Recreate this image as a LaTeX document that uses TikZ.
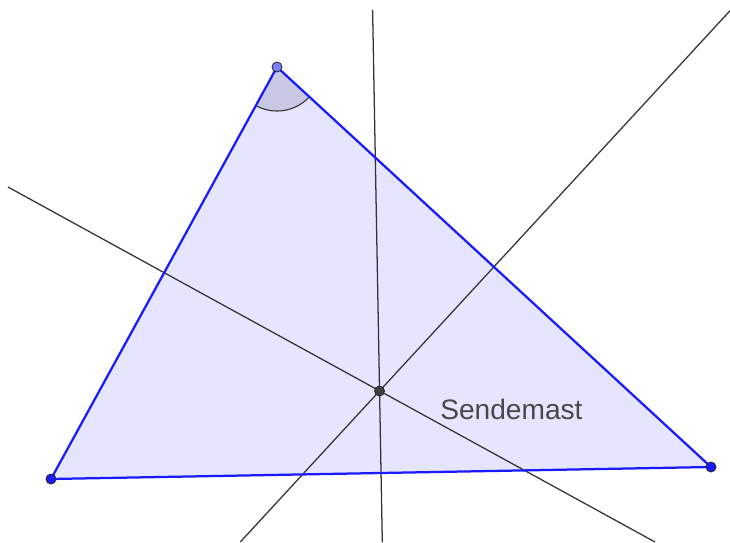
\documentclass[tikz,border=0pt]{standalone}
\usepackage{fontspec}
\setmainfont{Liberation Sans}
\definecolor{trifill}{RGB}{229,229,255}
\definecolor{triedge}{RGB}{26,26,255}
\definecolor{anglefill}{RGB}{200,200,228}
\definecolor{topdot}{RGB}{125,125,255}
\definecolor{labelgray}{RGB}{72,72,72}
\tikzset{
  bisector/.style={line width=0.9pt, black!80},
  triside/.style={line width=1.6pt, triedge},
  vertexdot/.style={circle, inner sep=0pt, minimum size=0.25cm, draw=black!85, line width=0.6pt, fill=#1},
}
\begin{document}
\begin{tikzpicture}[x=0.025cm, y=0.025cm]
\useasboundingbox (0,0) rectangle (730,542);
% Triangle corners and circumcentre
\coordinate (A) at (51,63);
\coordinate (B) at (711,75);
\coordinate (C) at (277,475);
\coordinate (M) at (379.5,151);
% Free ends of the bisectors
\coordinate (ab1) at (372.6,532);
\coordinate (ab2) at (382.3,0);
\coordinate (ac1) at (8,355);
\coordinate (ac2) at (655,0);
\coordinate (bc1) at (730,531.3);
\coordinate (bc2) at (240.3,0);

% Triangle
\fill[trifill] (A) -- (B) -- (C) -- cycle;
% Angle at C
\fill[anglefill] (C) -- ++(241.25:1.1cm) arc[start angle=241.25, end angle=317.33, radius=1.1cm] -- cycle;
\draw[line width=0.8pt, black!80] (C) ++(241.25:1.1cm) arc[start angle=241.25, end angle=317.33, radius=1.1cm];

% Perpendicular bisectors
\draw[bisector] (ab1) -- (ab2);
\draw[bisector] (ac1) -- (ac2);
\draw[bisector] (bc1) -- (bc2);

\draw[triside] (A) -- (B) -- (C) -- cycle;

% Points
\node[vertexdot=triedge] (a) at (A) {};
\node[vertexdot=triedge] (b) at (B) {};
\node[vertexdot=topdot] (c) at (C) {};
\node[vertexdot=black!75] (mast) at (M) {};

% Label
\node[anchor=base west, inner sep=0pt, text=labelgray, font=\fontsize{20}{24}\selectfont] (lbl) at (440,123) {Sendemast};
\end{tikzpicture}
\end{document}
